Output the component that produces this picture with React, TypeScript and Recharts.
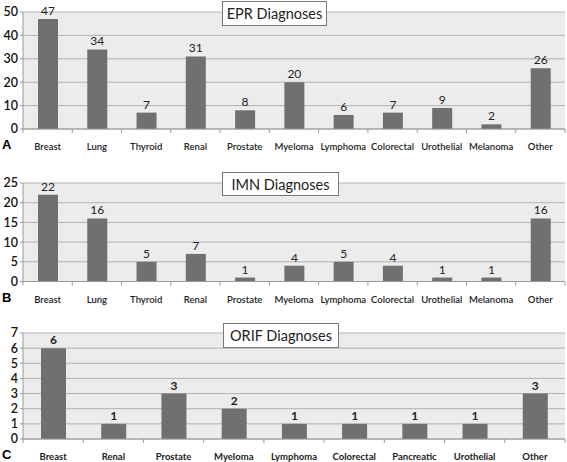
import React from 'react'
import { BarChart, Bar, XAxis, YAxis, CartesianGrid, LabelList } from 'recharts'

const eprCategories = ['Breast', 'Lung', 'Thyroid', 'Renal', 'Prostate', 'Myeloma', 'Lymphoma', 'Colorectal', 'Urothelial', 'Melanoma', 'Other']
const eprValues = [47, 34, 7, 31, 8, 20, 6, 7, 9, 2, 26]
const eprTicks = [0, 10, 20, 30, 40, 50]

const imnCategories = ['Breast', 'Lung', 'Thyroid', 'Renal', 'Prostate', 'Myeloma', 'Lymphoma', 'Colorectal', 'Urothelial', 'Melanoma', 'Other']
const imnValues = [22, 16, 5, 7, 1, 4, 5, 4, 1, 1, 16]
const imnTicks = [0, 5, 10, 15, 20, 25]

const orifCategories = ['Breast', 'Renal', 'Prostate', 'Myeloma', 'Lymphoma', 'Colorectal', 'Pancreatic', 'Urothelial', 'Other']
const orifValues = [6, 1, 3, 2, 1, 1, 1, 1, 3]
const orifTicks = [0, 1, 2, 3, 4, 5, 6, 7]

const FONT = 'Lato, "Open Sans", sans-serif'
const W = 567
const LEFT = 23
const RIGHT = 2
const XH = 28

function CatTick(props: any) {
  const { x, y, payload, index, count, bold } = props
  const band = (W - LEFT - RIGHT) / count
  return (
    <g>
      <line x1={x - band / 2} x2={x - band / 2} y1={y - 8} y2={y - 4} stroke="#999" />
      {index === count - 1 && (
        <line x1={x + band / 2} x2={x + band / 2} y1={y - 8} y2={y - 4} stroke="#999" />
      )}
      <text x={x} y={y + 13} textAnchor="middle" fontSize={9.5} fontFamily={FONT} fontWeight={bold ? 700 : 600} fill="#222">
        {payload.value}
      </text>
    </g>
  )
}

interface PanelProps {
  categories: string[]
  values: number[]
  ticks: number[]
  top: number
  plotHeight: number
  barSize: number
  letter: string
  title: string
  box: { left: number; top: number; width: number; height: number }
  boldLabels?: boolean
}

function Panel({ categories, values, ticks, top, plotHeight, barSize, letter, title, box, boldLabels }: PanelProps) {
  const data = categories.map((c, i) => ({ name: c, value: values[i] }))
  const height = 12 + plotHeight + XH
  return (
    <div style={{ position: 'absolute', left: 0, top, width: W, height }}>
      <BarChart width={W} height={height} data={data} margin={{ top: 12, right: RIGHT, bottom: 0, left: 0 }}>
        <CartesianGrid vertical={false} fill="#ececec" stroke="#b2b2b2" />
        <XAxis dataKey="name" interval={0} height={XH} axisLine={{ stroke: '#999' }} tickLine={false}
          tick={<CatTick count={categories.length} bold={boldLabels} />} />
        <YAxis width={LEFT} domain={[0, ticks[ticks.length - 1]]} ticks={ticks} interval={0}
          axisLine={{ stroke: '#999' }} tickLine={{ stroke: '#999' }} tickSize={3}
          tick={{ fontSize: 12.5, fill: '#111', fontFamily: FONT, fontWeight: 600 }} />
        <Bar dataKey="value" fill="#707070" barSize={barSize} isAnimationActive={false}>
          <LabelList dataKey="value" position="top" offset={4}
            style={{ fontSize: 12, fill: '#222', fontFamily: FONT, fontWeight: boldLabels ? 700 : 400 }} />
        </Bar>
      </BarChart>
      <div style={{ position: 'absolute', left: box.left, top: box.top, width: box.width, height: box.height,
        boxSizing: 'border-box', border: '1px solid #777', background: '#fff', fontFamily: FONT, fontSize: 14.5,
        color: '#222', display: 'flex', alignItems: 'center', justifyContent: 'center' }}>
        {title}
      </div>
      <div style={{ position: 'absolute', left: 2, top: 12 + plotHeight + 9, fontFamily: 'Arial, "Liberation Sans", sans-serif',
        fontWeight: 700, fontSize: 13, color: '#000', lineHeight: '13px' }}>
        {letter}
      </div>
    </div>
  )
}

export default function App() {
  return (
    <div style={{ position: 'fixed', left: 0, top: 0, width: W, height: 462, background: '#fff', overflow: 'hidden' }}>
      <Panel categories={eprCategories} values={eprValues} ticks={eprTicks} top={0} plotHeight={117} barSize={20}
        letter="A" title="EPR Diagnoses" box={{ left: 222, top: 1, width: 105, height: 25 }} />
      <Panel categories={imnCategories} values={imnValues} ticks={imnTicks} top={171} plotHeight={98.5} barSize={20}
        letter="B" title="IMN Diagnoses" box={{ left: 222, top: 1, width: 117, height: 24 }} />
      <Panel categories={orifCategories} values={orifValues} ticks={orifTicks} top={321} plotHeight={106} barSize={25}
        letter="C" title="ORIF Diagnoses" box={{ left: 223, top: 2, width: 116, height: 25 }} boldLabels />
    </div>
  )
}
